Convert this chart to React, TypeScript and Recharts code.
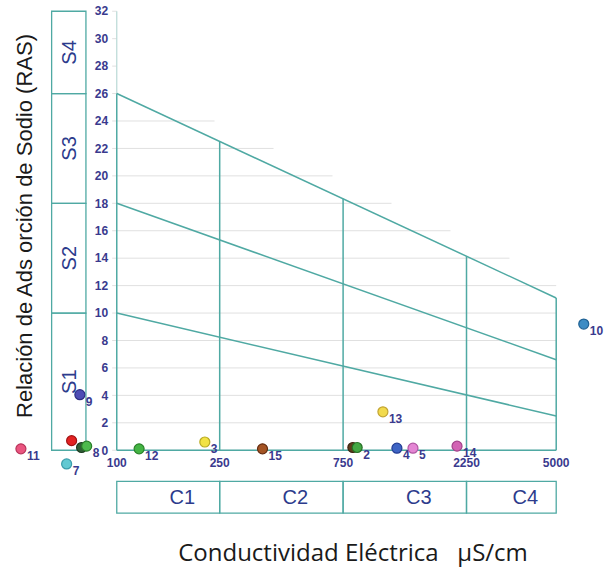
import React from 'react';
import { ComposedChart, Scatter, XAxis, YAxis, ReferenceLine, ReferenceArea, Label } from 'recharts';

// conductividad (uS/cm), limites de clase
const ecBreaks = [100, 250, 750, 2250, 5000];
const salinityClasses = ['C1', 'C2', 'C3', 'C4'];

// RAS, limites de clase
const sodiumClasses = ['S1', 'S2', 'S3', 'S4'];
const sodiumBounds = [0, 10, 18, 26, 32];
const sarAt100 = [10, 18, 26];
const sarAt5000 = [2.5, 6.6, 11.1];
const sarTicks = [0, 2, 4, 6, 8, 10, 12, 14, 16, 18, 20, 22, 24, 26, 28, 30, 32];

// muestras
const sampleLabels = ['11', '7', '', '', '8', '9', '12', '3', '15', '', '2', '13', '4', '5', '14', '10'];
const sampleEC = [42.6, 64, 66.9, 73.1, 76.5, 72, 122, 219, 366, 818, 850, 1069, 1211, 1397, 2068, 6390];
const sampleSAR = [0.1, -1.0, 0.7, 0.2, 0.3, 4.05, 0.1, 0.6, 0.1, 0.2, 0.2, 2.8, 0.15, 0.15, 0.3, 9.2];
const pointFill = ['#ea5580', '#62c9d2', '#e32222', '#2f5e35', '#4dba4d', '#4e4cb4', '#44b444', '#f2e244', '#a45424', '#5e3c1c', '#44a844', '#f2da4c', '#3e64c4', '#e486d4', '#d264b4', '#3c8cc4'];
const pointStroke = ['#b8345a', '#3a9caa', '#a01414', '#1c3a20', '#2a7e2a', '#2e2e84', '#2a822a', '#b8aa22', '#642c10', '#3a2410', '#267026', '#c2a432', '#223c94', '#b056a2', '#a2428a', '#206294'];

const TEAL = '#4fa9a3';
const NAVY = '#3a3a8e';
const LOG_SPAN = Math.log10(5000) - 2;

const sarOnLine = (i: number, ec: number) =>
    sarAt100[i] + (sarAt5000[i] - sarAt100[i]) * (Math.log10(ec) - 2) / LOG_SPAN;

// grid horizontal llega un poco mas alla de la linea superior
const gridEnd = (v: number) => {
    const top = sarAt100.length - 1;
    if (v >= sarAt100[top]) return 100;
    const t = (sarAt100[top] - v) / (sarAt100[top] - sarAt5000[top]);
    return Math.min(5000, Math.pow(10, 2 + t * LOG_SPAN + 0.15));
};

const samples = sampleEC.map((ec, i) => ({
    ec,
    sar: sampleSAR[i],
    label: sampleLabels[i],
    fill: pointFill[i],
    stroke: pointStroke[i],
}));

const renderPoint = (props: any) => {
    const { cx, cy, payload } = props;
    return <circle cx={cx} cy={cy} r={5} fill={payload.fill} stroke={payload.stroke} strokeWidth={1.2} />;
};

const renderPointLabel = (props: any) => {
    const { cx, cy, payload } = props;
    if (!payload.label) return <g />;
    return (
        <text x={cx + 6} y={cy + 11} fill={NAVY} fontSize={12} fontWeight={700} fontFamily="Liberation Sans, Arial, sans-serif">
            {payload.label}
        </text>
    );
};

const tickStyle = { fill: NAVY, fontSize: 12, fontWeight: 700, fontFamily: 'Liberation Sans, Arial, sans-serif' };

const App = () => {
    return (
        <div style={{ position: 'absolute', left: 0, top: 0, width: 615, height: 568, background: '#fff' }}>
            <ComposedChart width={615} height={568} data={samples} margin={{ top: 3, right: 6, bottom: 8, left: 2 }}>
                <XAxis dataKey="ec" type="number" scale="log" domain={[36, 8000]} allowDataOverflow hide />
                <YAxis dataKey="sar" type="number" domain={[-8, 32.6]} allowDataOverflow hide />

                {/* rejilla y etiquetas del eje RAS */}
                {sarTicks.map((v) => (
                    <ReferenceLine
                        key={`g-${v}`}
                        segment={[{ x: 96, y: v }, { x: gridEnd(v), y: v }]}
                        stroke="#e0e0e0"
                        strokeWidth={1}
                        label={{ value: String(v), position: 'left', offset: 4, ...tickStyle }}
                    />
                ))}

                {/* eje RAS */}
                <ReferenceLine segment={[{ x: 100, y: sodiumBounds[3] }, { x: 100, y: sodiumBounds[4] }]} stroke="#b9d9d6" strokeWidth={1.2} />
                <ReferenceLine
                    segment={[{ x: 100, y: sodiumBounds[3] }, { x: 100, y: 0 }]}
                    stroke={TEAL}
                    strokeWidth={1.5}
                    label={{ value: String(ecBreaks[0]), position: 'bottom', offset: 8, ...tickStyle }}
                />

                {/* eje conductividad */}
                <ReferenceLine segment={[{ x: ecBreaks[0], y: 0 }, { x: ecBreaks[4], y: 0 }]} stroke={TEAL} strokeWidth={1.5} />

                {/* verticales de clase de salinidad */}
                {ecBreaks.slice(1).map((ec) => (
                    <ReferenceLine
                        key={`v-${ec}`}
                        segment={[{ x: ec, y: sarOnLine(2, ec) }, { x: ec, y: 0 }]}
                        stroke={TEAL}
                        strokeWidth={1.5}
                        label={{ value: String(ec), position: 'bottom', offset: 8, ...tickStyle }}
                    />
                ))}

                {/* lineas de clase de sodio */}
                {sarAt100.map((s, i) => (
                    <ReferenceLine
                        key={`s-${i}`}
                        segment={[{ x: 100, y: s }, { x: 5000, y: sarAt5000[i] }]}
                        stroke={TEAL}
                        strokeWidth={1.5}
                    />
                ))}

                {/* cajas S */}
                {sodiumClasses.map((s, i) => (
                    <ReferenceArea
                        key={s}
                        x1={56}
                        x2={76}
                        y1={sodiumBounds[i]}
                        y2={sodiumBounds[i + 1]}
                        fill="none"
                        stroke={TEAL}
                        strokeWidth={1.3}
                    >
                        <Label value={s} position="center" angle={-90} fill="#2c3b8c" fontSize={20} fontFamily="Liberation Sans, Arial, sans-serif" />
                    </ReferenceArea>
                ))}

                {/* cajas C */}
                {salinityClasses.map((c, i) => (
                    <ReferenceArea
                        key={c}
                        x1={ecBreaks[i]}
                        x2={ecBreaks[i + 1]}
                        y1={-2.27}
                        y2={-4.58}
                        fill="none"
                        stroke={TEAL}
                        strokeWidth={1.3}
                    >
                        <Label value={c} position="center" dx={14} fill="#2c3b8c" fontSize={20} fontFamily="Liberation Sans, Arial, sans-serif" />
                    </ReferenceArea>
                ))}

                <Scatter data={samples} shape={renderPointLabel} isAnimationActive={false} />
                <Scatter data={samples} shape={renderPoint} isAnimationActive={false} />
            </ComposedChart>

            <div
                style={{
                    position: 'absolute',
                    left: 25,
                    top: 226,
                    transform: 'translate(-50%, -50%) rotate(-90deg)',
                    whiteSpace: 'nowrap',
                    fontFamily: 'Liberation Sans, Arial, sans-serif',
                    fontSize: 22,
                    color: '#1a1a1a',
                }}
            >
                Relación de Ads orción de Sodio (RAS)
            </div>
            <div
                style={{
                    position: 'absolute',
                    left: 353,
                    top: 551,
                    transform: 'translate(-50%, -50%)',
                    whiteSpace: 'pre',
                    fontFamily: 'Open Sans, sans-serif',
                    fontSize: 24,
                    color: '#1a1a1a',
                }}
            >
                {'Conductividad Eléctrica   µS/cm'}
            </div>
        </div>
    );
};

export default App;
